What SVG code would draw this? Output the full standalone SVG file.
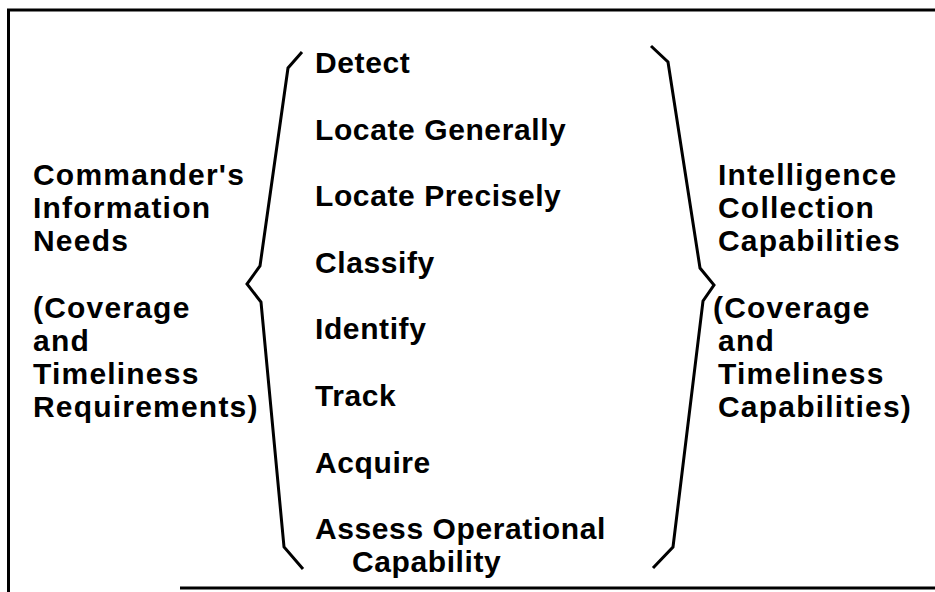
<svg xmlns="http://www.w3.org/2000/svg" width="935" height="592" viewBox="0 0 935 592">
  <style>
    .t { font-family: "Liberation Sans", Arial, sans-serif; font-weight: bold; font-size: 30px; fill: #000; letter-spacing: 0.6px; }
    .s { letter-spacing: 1.2px; }
    .line { fill: none; stroke: #000; stroke-width: 3; stroke-linejoin: miter; stroke-linecap: butt; }
  </style>
  <rect x="0" y="0" width="935" height="592" fill="#fff"/>
  <g id="frame">
    <path class="line" d="M935 10 H8.5 V592"/>
    <path class="line" d="M180 588 H935"/>
  </g>
  <g id="braces">
    <path class="line" d="M302 52 L288 68 L260 266 L247 284 L261 302 L284 547 L303 569"/>
    <path class="line" d="M651 46 L668 62 L700 268 L714 285 L703 301 L673 547 L653 568"/>
  </g>
  <g id="needs">
    <text class="t s" x="33" y="185">Commander's</text>
    <text class="t s" x="33" y="218">Information</text>
    <text class="t s" x="33" y="251">Needs</text>
    <text class="t s" x="33" y="318">(Coverage</text>
    <text class="t s" x="33" y="351">and</text>
    <text class="t s" x="33" y="384">Timeliness</text>
    <text class="t s" x="33" y="417">Requirements)</text>
  </g>
  <g id="functions">
    <text class="t" x="315" y="73">Detect</text>
    <text class="t" x="315" y="140">Locate Generally</text>
    <text class="t" x="315" y="206">Locate Precisely</text>
    <text class="t" x="315" y="273">Classify</text>
    <text class="t" x="315" y="339">Identify</text>
    <text class="t" x="315" y="406">Track</text>
    <text class="t" x="315" y="473">Acquire</text>
    <text class="t" x="315" y="539">Assess Operational</text>
    <text class="t" x="352" y="572">Capability</text>
  </g>
  <g id="capabilities">
    <text class="t s" x="718" y="185">Intelligence</text>
    <text class="t s" x="718" y="218">Collection</text>
    <text class="t s" x="718" y="251">Capabilities</text>
    <text class="t s" x="713" y="318">(Coverage</text>
    <text class="t s" x="718" y="351">and</text>
    <text class="t s" x="718" y="384">Timeliness</text>
    <text class="t s" x="718" y="417">Capabilities)</text>
  </g>
</svg>
